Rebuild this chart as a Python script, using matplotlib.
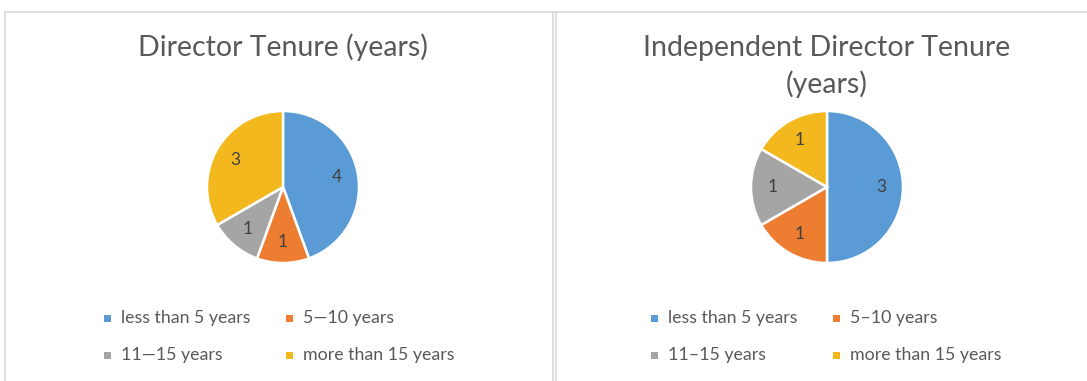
import matplotlib
matplotlib.use("Agg")
import matplotlib.pyplot as plt
from matplotlib.lines import Line2D
from matplotlib.patches import Rectangle

plt.rcParams['font.family'] = ['Lato', 'DejaVu Sans']

titles = ["Director Tenure (years)", "Independent Director Tenure\n(years)"]
legend_left = ["less than 5 years", "5\u201410 years", "11\u201415 years", "more than 15 years"]
legend_right = ["less than 5 years", "5\u201310 years", "11\u201315 years", "more than 15 years"]
director_counts = [4, 1, 1, 3]
independent_counts = [3, 1, 1, 1]
colors = ["#5B9BD5", "#ED7D31", "#A5A5A5", "#F2B81E"]

W, H = 1087, 381
fig = plt.figure(figsize=(W / 100, H / 100), dpi=100)
fig.patch.set_facecolor("white")

def px_axes(cx, cy, r):
    pad = 1.03
    w = 2 * r * pad
    return fig.add_axes([(cx - w / 2) / W, 1 - (cy + w / 2) / H, w / W, w / H])

panels = [
    dict(cx=283, cy=187, r=76, data=director_counts, title=titles[0], title_y=47,
         labels=legend_left, lx=107),
    dict(cx=827, cy=187, r=76, data=independent_counts, title=titles[1], title_y=66.5,
         labels=legend_right, lx=654),
]

for p in panels:
    ax = px_axes(p["cx"], p["cy"], p["r"])
    vals = p["data"]
    ax.pie(vals, colors=colors, startangle=90, counterclock=False,
           wedgeprops=dict(edgecolor="white", linewidth=1.8),
           autopct=lambda pct, v=vals: f"{round(pct * sum(v) / 100):d}",
           pctdistance=0.72,
           textprops=dict(color="#404040", fontsize=12.5))
    ax.set_xlim(-1.03, 1.03)
    ax.set_ylim(-1.03, 1.03)
    ax.set_aspect("equal")
    ax.axis("off")
    fig.text(p["cx"] / W, 1 - p["title_y"] / H, p["title"], ha="center", va="center",
             fontsize=20.5, color="#595959", linespacing=1.38)
    # legend
    for i, lab in enumerate(p["labels"]):
        col, row = i % 2, i // 2
        mx = p["lx"] + col * 182
        my = 318 + row * 37
        fig.add_artist(Rectangle(((mx - 3.5) / W, 1 - (my + 3.5) / H), 7 / W, 7 / H,
                                 transform=fig.transFigure, facecolor=colors[i],
                                 edgecolor="none"))
        fig.text((mx + 14) / W, 1 - my / H, lab, ha="left", va="center",
                 fontsize=12.8, color="#595959")

# panel borders
border = "#D9D9D9"
fig.add_artist(Line2D([5 / W, 1], [1 - 12 / H, 1 - 12 / H], transform=fig.transFigure,
                      color=border, lw=1.2))
fig.add_artist(Line2D([5 / W, 5 / W], [0, 1 - 12 / H], transform=fig.transFigure,
                      color=border, lw=1.2))
fig.add_artist(Line2D([553 / W, 553 / W], [0, 1 - 12 / H], transform=fig.transFigure,
                      color=border, lw=1.2))
fig.add_artist(Line2D([556 / W, 556 / W], [0, 1 - 12 / H], transform=fig.transFigure,
                      color=border, lw=1.2))

fig.savefig("out.png", dpi=100, facecolor="white")
